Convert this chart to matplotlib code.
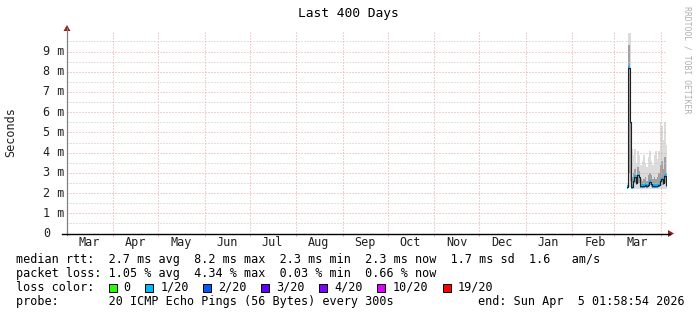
#-----------------------------------------------------------------------------------------------------#

import numpy as np
import matplotlib
matplotlib.use('Agg')
import matplotlib.pyplot as plt
from matplotlib.patches import Polygon, Rectangle
from matplotlib.lines import Line2D
from datetime import datetime, timedelta

#-----------------------------------------------------------------------------------------------------#

# data (ms), one entry per day counted from the start of the 400 day window
end_time = datetime(2026, 4, 5, 1, 58, 54)
span_days = 400

day = [373, 374, 375, 376, 377, 378, 379, 380, 381, 382, 383, 384, 385, 386,
       387, 388, 389, 390, 391, 392, 393, 394, 395, 396, 397, 398, 399]
median_ms = [2.3, 8.2, 5.5, 2.3, 2.6, 2.8, 2.5, 2.9, 2.8, 2.35, 2.35, 2.35, 2.4, 2.35,
             2.4, 2.55, 2.45, 2.35, 2.35, 2.35, 2.35, 2.4, 2.6, 2.7, 2.5, 2.85, 2.4]
smoke_min = [2.2, 2.3, 2.3, 2.2, 2.2, 2.2, 2.2, 2.2, 2.2, 2.2, 2.2, 2.2, 2.2, 2.2,
             2.2, 2.2, 2.2, 2.2, 2.2, 2.2, 2.2, 2.2, 2.2, 2.2, 2.2, 2.2, 2.2]
smoke_q1 = [2.25, 3.0, 2.6, 2.3, 2.4, 2.5, 2.4, 2.5, 2.5, 2.3, 2.3, 2.3, 2.3, 2.3,
            2.3, 2.4, 2.3, 2.3, 2.3, 2.3, 2.3, 2.3, 2.4, 2.4, 2.4, 2.5, 2.3]
smoke_q3 = [2.4, 9.3, 8.0, 2.8, 3.0, 3.2, 2.9, 3.3, 3.1, 2.7, 2.6, 2.7, 2.8, 2.6,
            2.9, 3.0, 2.9, 2.7, 2.8, 2.7, 2.8, 3.0, 3.4, 3.6, 3.2, 3.8, 3.0]
smoke_max = [2.5, 9.9, 9.9, 4.2, 3.9, 4.2, 3.5, 4.1, 3.9, 3.4, 3.6, 3.9, 3.5, 3.3,
             3.8, 4.1, 3.6, 3.4, 3.9, 4.1, 3.7, 4.1, 5.5, 5.3, 4.6, 5.5, 4.4]
loss_level = [1, 1, 1, 1, 1, 1, 1, 1, 1, 1, 1, 1, 1, 1,
              1, 1, 1, 1, 1, 1, 1, 1, 1, 1, 1, 1, 1]

loss_labels = ['0', '1/20', '2/20', '3/20', '4/20', '10/20', '19/20']
loss_colors = ['#26ff00', '#00b8ff', '#0059ff', '#5e00ff', '#7e00ff', '#dd00ff', '#ff0000']

y_major = [1, 2, 3, 4, 5, 6, 7, 8, 9]
y_minor = [0.5, 1.5, 2.5, 3.5, 4.5, 5.5, 6.5, 7.5, 8.5, 9.5]

legend_rows = [
    'median rtt:  2.7 ms avg  8.2 ms max  2.3 ms min  2.3 ms now  1.7 ms sd  1.6   am/s',
    'packet loss: 1.05 % avg  4.34 % max  0.03 % min  0.66 % now',
]
probe_text = 'probe:       20 ICMP Echo Pings (56 Bytes) every 300s'
end_text = 'end: Sun Apr  5 01:58:54 2026'

#-----------------------------------------------------------------------------------------------------#

W, H = 697, 315
MONO = 'DejaVu Sans Mono'
FS = 8.5
GRID_MAJ = '#e8a0a0'
GRID_MIN = '#c4c4c4'
DOTS = (0, (1, 2))

def fx(x):
    return x / W

def fy(y):
    return 1 - y / H

fig = plt.figure(figsize=(W / 100, H / 100), dpi=100)
fig.patch.set_facecolor('white')

# plot area: x 67..667 px, y 233.5 (0 ms) .. 31 (top)
x0, x1, yb, yt = 67, 667, 233.5, 31.3
ax = fig.add_axes([fx(x0), fy(yb), (x1 - x0) / W, (yb - yt) / H])
ax.set_xlim(0, span_days)
ax.set_ylim(0, 10)
ax.axis('off')

start_time = end_time - timedelta(days=span_days)

#-----------------------------------------------------------------------------------------------------#

# grid lines
ax.hlines(y_minor, 0, span_days, colors=GRID_MIN, lw=0.72, linestyles=DOTS)
ax.hlines(y_major, 0, span_days, colors=GRID_MAJ, lw=0.72, linestyles=DOTS)

month_starts = []
month_mids = []
month_names = []
m = datetime(start_time.year, start_time.month, 1)
while m < end_time:
    nxt = datetime(m.year + (m.month // 12), m.month % 12 + 1, 1)
    d0 = (m - start_time).total_seconds() / 86400
    if d0 > 0:
        month_starts.append(d0)
    mid = d0 + 15
    if 0 < mid < span_days:
        month_mids.append(mid)
        month_names.append(m.strftime('%b'))
    m = nxt

ax.vlines(month_starts, 0, 10, colors=GRID_MAJ, lw=0.72, linestyles=DOTS)
ax.vlines(month_starts, -0.14, 0, colors=GRID_MAJ, lw=0.72, clip_on=False)
for d, name in zip(month_mids, month_names):
    ax.text(d, -0.45, name, ha='center', va='center', family=MONO, fontsize=FS, color='#202020')

#-----------------------------------------------------------------------------------------------------#

# smoke + median
edges = np.append(day, day[-1] + 1)
def ext(a):
    return np.append(a, a[-1])

ax.fill_between(edges, ext(smoke_min), ext(smoke_max), step='post', color='#dcdcdc', lw=0)
ax.fill_between(edges, ext(smoke_q1), ext(smoke_q3), step='post', color='#a0a0a0', lw=0)
ax.step(edges, ext(median_ms), where='post', color='#202020', lw=0.8)
for d, med, lv in zip(day, median_ms, loss_level):
    ax.fill_between([d, d + 1], med - 0.08, med + 0.08, color=loss_colors[lv], lw=0)

#-----------------------------------------------------------------------------------------------------#

# axes lines and arrows
fig.add_artist(Line2D([fx(x0), fx(x0)], [fy(yb + 1), fy(28)], color='#808080', lw=0.9))
fig.add_artist(Line2D([fx(62), fx(670)], [fy(yb), fy(yb)], color='black', lw=1.0))
fig.add_artist(Polygon([(fx(63.5), fy(31)), (fx(70.5), fy(31)), (fx(67), fy(25))],
                       closed=True, color='#9b1c1c', lw=0))
fig.add_artist(Polygon([(fx(668), fy(yb - 3.5)), (fx(668), fy(yb + 3.5)), (fx(674), fy(yb))],
                       closed=True, color='#9b1c1c', lw=0))

# y labels
for k in y_major:
    fig.text(fx(43), fy(yb - k * (yb - yt) / 10), f'{k} m', ha='left', va='center',
             family=MONO, fontsize=FS, color='#202020')
fig.text(fx(43), fy(yb), '0', ha='left', va='center', family=MONO, fontsize=FS, color='#202020')

fig.text(fx(11), fy(132), 'Seconds', rotation=90, ha='center', va='center',
         family=MONO, fontsize=FS, color='#202020')
fig.text(fx(348), fy(14), 'Last 400 Days', ha='center', va='center',
         family=MONO, fontsize=9.3, color='black')
fig.text(fx(687), fy(60), 'RRDTOOL / TOBI OETIKER', rotation=-90, ha='center', va='center',
         family=MONO, fontsize=5.9, color='#b0b0b0')

#-----------------------------------------------------------------------------------------------------#

# legend
for i, row in enumerate(legend_rows):
    fig.text(fx(16), fy(259.3 + 14 * i), row, ha='left', va='center', family=MONO, fontsize=FS)
fig.text(fx(16), fy(287.3), 'loss color:', ha='left', va='center', family=MONO, fontsize=FS)
cx = 108.7
cw = 7.13
for lab, col in zip(loss_labels, loss_colors):
    fig.add_artist(Rectangle((fx(cx), fy(291.5)), 8 / W, 8 / H, facecolor=col,
                             edgecolor='black', lw=0.7))
    fig.text(fx(cx + 15), fy(287.3), lab, ha='left', va='center', family=MONO, fontsize=FS)
    cx = cx + 15 + len(lab) * cw + 14.5
fig.text(fx(16), fy(301), probe_text, ha='left', va='center', family=MONO, fontsize=FS)
fig.text(fx(478.3), fy(301), end_text, ha='left', va='center', family=MONO, fontsize=FS)

fig.savefig('out.png', dpi=100, facecolor='white')

#-----------------------------------------------------------------------------------------------------#
